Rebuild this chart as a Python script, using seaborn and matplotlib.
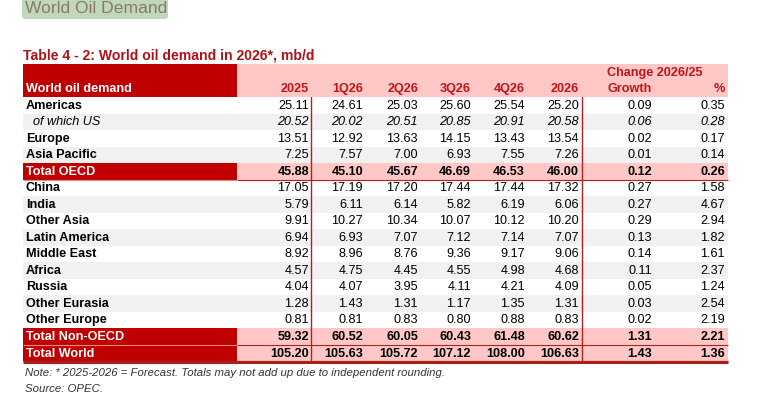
import matplotlib
matplotlib.use("Agg")
import matplotlib.pyplot as plt
from matplotlib.patches import Rectangle, FancyBboxPatch
import seaborn as sns
import pandas as pd

# ---------------- data ----------------
regions = ["Americas", "of which US", "Europe", "Asia Pacific", "Total OECD",
           "China", "India", "Other Asia", "Latin America", "Middle East",
           "Africa", "Russia", "Other Eurasia", "Other Europe",
           "Total Non-OECD", "Total World"]
columns = ["2025", "1Q26", "2Q26", "3Q26", "4Q26", "2026", "Growth", "%"]
v2025 = [25.11, 20.52, 13.51, 7.25, 45.88, 17.05, 5.79, 9.91, 6.94, 8.92, 4.57, 4.04, 1.28, 0.81, 59.32, 105.20]
v1q26 = [24.61, 20.02, 12.92, 7.57, 45.10, 17.19, 6.11, 10.27, 6.93, 8.96, 4.75, 4.07, 1.43, 0.81, 60.52, 105.63]
v2q26 = [25.03, 20.51, 13.63, 7.00, 45.67, 17.20, 6.14, 10.34, 7.07, 8.76, 4.45, 3.95, 1.31, 0.83, 60.05, 105.72]
v3q26 = [25.60, 20.85, 14.15, 6.93, 46.69, 17.44, 5.82, 10.07, 7.12, 9.36, 4.55, 4.11, 1.17, 0.80, 60.43, 107.12]
v4q26 = [25.54, 20.91, 13.43, 7.55, 46.53, 17.44, 6.19, 10.12, 7.14, 9.17, 4.98, 4.21, 1.35, 0.88, 61.48, 108.00]
v2026 = [25.20, 20.58, 13.54, 7.26, 46.00, 17.32, 6.06, 10.20, 7.07, 9.06, 4.68, 4.09, 1.31, 0.83, 60.62, 106.63]
growth = [0.09, 0.06, 0.02, 0.01, 0.12, 0.27, 0.27, 0.29, 0.13, 0.14, 0.11, 0.05, 0.03, 0.02, 1.31, 1.43]
pct = [0.35, 0.28, 0.17, 0.14, 0.26, 1.58, 4.67, 2.94, 1.82, 1.61, 2.37, 1.24, 2.54, 2.19, 2.21, 1.36]
total_rows = ["Total OECD", "Total Non-OECD", "Total World"]
sub_rows = ["of which US"]
shaded_rows = ["of which US", "Asia Pacific", "India", "Latin America", "Africa", "Other Eurasia"]

df = pd.DataFrame({"2025": v2025, "1Q26": v1q26, "2Q26": v2q26, "3Q26": v3q26,
                   "4Q26": v4q26, "2026": v2026, "Growth": growth, "%": pct},
                  index=regions)

# ---------------- style ----------------
sns.set_theme(style="white")
plt.rcParams["font.family"] = ["Liberation Sans", "DejaVu Sans"]

DARK_RED = "#c00000"
HEAD_RED = "#c0141a"
PINK = "#ffc8c6"
GREY = "#f1f1f1"
LINE_RED = "#b3211c"

W, H = 767, 412
fig = plt.figure(figsize=(W / 100, H / 100), dpi=100)
ax = fig.add_axes([0, 0, 1, 1])
ax.set_xlim(0, W)
ax.set_ylim(H, 0)
ax.axis("off")

# geometry
X0, XLAB, XEND = 23, 237, 728
col_right = [309, 363, 418, 471, 525, 579, 652, 725]
vlines = [311, 582]
HEAD_TOP, HEAD_BOT = 64, 97
ROW_H = 16.53
FS = 9.1

# page title box
ax.add_patch(FancyBboxPatch((22, -6), 146, 25, boxstyle="round,pad=0,rounding_size=3",
                            fc="#bfd8bc", ec="none"))
ax.text(25, 8.5, "World Oil Demand", fontsize=12.6, color="#8b7866", va="center", ha="left")

# table caption
ax.text(23, 55, "Table 4 - 2: World oil demand in 2026*, mb/d", fontsize=10.1,
        fontweight="bold", color="#b01116", va="center", ha="left")

# header
ax.add_patch(Rectangle((X0, HEAD_TOP), XLAB - X0, HEAD_BOT - HEAD_TOP, fc=DARK_RED, ec="none"))
ax.add_patch(Rectangle((XLAB, HEAD_TOP), XEND - XLAB, HEAD_BOT - HEAD_TOP, fc=PINK, ec="none"))
ax.text(26, 88.5, "World oil demand", fontsize=FS, fontweight="bold", color="white",
        va="center", ha="left")
ax.text(607, 72.5, "Change 2026/25", fontsize=FS, fontweight="bold", color=HEAD_RED,
        va="center", ha="left")
for c, xr in zip(columns, col_right):
    ax.text(xr, 88.5, c, fontsize=FS, fontweight="bold", color=HEAD_RED, va="center", ha="right")

# rows
for i, name in enumerate(df.index):
    top = HEAD_BOT + i * ROW_H
    yc = top + ROW_H / 2 + 0.3
    is_total = name in total_rows
    if is_total:
        ax.add_patch(Rectangle((X0, top), XLAB - X0, ROW_H, fc=DARK_RED, ec="none"))
        ax.add_patch(Rectangle((XLAB, top), XEND - XLAB, ROW_H, fc=PINK, ec="none"))
    elif name in shaded_rows:
        ax.add_patch(Rectangle((X0, top), XEND - X0, ROW_H, fc=GREY, ec="none"))
    if is_total:
        ax.text(26, yc, name, fontsize=FS, fontweight="bold", color="white", va="center", ha="left")
    elif name in sub_rows:
        ax.text(33, yc, name, fontsize=FS, style="italic", color="black", va="center", ha="left")
    else:
        ax.text(26, yc, name, fontsize=FS, fontweight="bold", color="black", va="center", ha="left")
    for c, xr in zip(columns, col_right):
        ax.text(xr, yc, f"{df.loc[name, c]:.2f}", fontsize=FS,
                fontweight="bold" if is_total else "normal",
                style="italic" if name in sub_rows else "normal",
                color="black", va="center", ha="right")

n = len(df.index)
TAB_BOT = HEAD_BOT + n * ROW_H

# horizontal rules around total rows
for name in total_rows:
    i = list(df.index).index(name)
    top = HEAD_BOT + i * ROW_H
    ax.plot([XLAB, XEND], [top + ROW_H, top + ROW_H], color=LINE_RED, lw=0.8, solid_capstyle="butt")
    ax.plot([X0, XLAB], [top + ROW_H, top + ROW_H], color="#e88a86", lw=0.8, solid_capstyle="butt")
ax.plot([X0, XEND], [TAB_BOT + 0.8, TAB_BOT + 0.8], color="#a8201a", lw=2.2, solid_capstyle="butt")

# vertical rules
for xv in vlines:
    ax.plot([xv, xv], [HEAD_BOT, TAB_BOT], color=LINE_RED, lw=1.0)

# notes
ax.text(25, 373, "Note: * 2025-2026 = Forecast. Totals may not add up due to independent rounding.",
        fontsize=8.2, style="italic", color="#333333", va="center", ha="left")
ax.text(25, 389, "Source: OPEC.", fontsize=8.2, style="italic", color="#333333",
        va="center", ha="left")

fig.savefig("out.png", dpi=100)
